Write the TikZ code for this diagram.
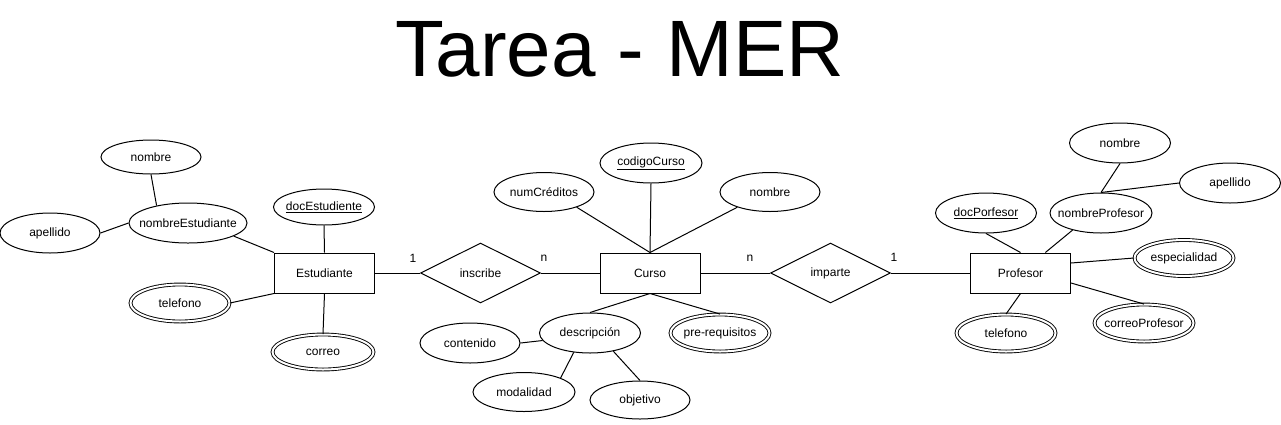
\documentclass[tikz,border=0pt]{standalone}
\usepackage{fontspec}
\setmainfont{Liberation Sans}
\usetikzlibrary{shapes.geometric}
\newcommand\tx[1]{\makebox[0pt]{#1}}
\begin{document}
\begin{tikzpicture}[x=1pt,y=-1pt,line width=1pt,
  lbl/.style={font=\fontsize{12}{14}\selectfont,inner sep=0pt},
  attr/.style 2 args={ellipse,draw,inner sep=0pt,minimum width=#1pt,minimum height=#2pt,font=\fontsize{12}{14}\selectfont},
  mattr/.style 2 args={ellipse,draw,double,double distance=2pt,line width=0.9pt,inner sep=0pt,minimum width=#1pt-3pt,minimum height=#2pt-3pt,font=\fontsize{12}{14}\selectfont},
  entity/.style={rectangle,draw,inner sep=0pt,minimum width=100pt,minimum height=40pt,font=\fontsize{12}{14}\selectfont},
  rel/.style={diamond,draw,aspect=2,inner sep=0pt,minimum width=120pt,minimum height=60pt,font=\fontsize{12}{14}\selectfont}
]
\useasboundingbox (0,0) rectangle (1281,424);
\node (title) at (620,76) [anchor=base,inner sep=0pt,font=\fontsize{80}{96}\selectfont] {Tarea - MER};

% Estudiante
\node[entity] (est) at (324.5,273) {Estudiante};
\node[attr={100}{34}] (enombre) at (151,157) {\tx{nombre}};
\node[attr={100}{40}] (eapellido) at (50,233) {\tx{apellido}};
\node[attr={118}{40}] (ene) at (188,223) {\tx{nombreEstudiante}};
\node[attr={101}{36}] (edoc) at (324,207) {\tx{\underline{docEstudiente}}};
\node[mattr={102}{40}] (etel) at (180,303) {\tx{telefono}};
\node[mattr={104}{38}] (ecorreo) at (323,352) {\tx{correo}};

\draw (enombre.south) -- (ene.151);
\draw (eapellido.east) -- (ene.west);
\draw (ene.-16) -- (est.north west);
\draw (etel.east) -- (est.south west);
\draw (edoc.south) -- (est.north);
\draw (ecorreo.north) -- (est.south);

% Curso
\node[entity] (curso) at (650,273) {Curso};
\node[attr={102}{40}] (ccod) at (651,163) {\tx{\underline{codigoCurso}}};
\node[attr={100}{39}] (cnum) at (544,192) {\tx{numCréditos}};
\node[attr={100}{39}] (cnom) at (770,192) {\tx{nombre}};
\node[attr={101}{40}] (cdesc) at (590,333) {\tx{descripción}};
\node[mattr={102}{40}] (cpre) at (720,333) {\tx{pre-requisitos}};
\node[attr={100}{40}] (ccont) at (470,343) {\tx{contenido}};
\node[attr={102}{39}] (cmod) at (524,392) {\tx{modalidad}};
\node[attr={100}{38}] (cobj) at (640,400) {\tx{objetivo}};

\draw (ccod.south) -- (curso.north);
\draw (cnum.-25) -- (curso.north);
\draw (cnom.-155) -- (curso.north);
\draw (curso.south) -- (cdesc.north);
\draw (curso.south) -- (cpre.north);
\draw (ccont.east) -- (cdesc.189);
\draw (cdesc.-130) -- (cmod.21);
\draw (cdesc.-38) -- (cobj.north);

% Profesor
\node[entity] (prof) at (1020.5,273) {Profesor};
\node[attr={101}{40}] (pdoc) at (986,213) {\tx{\underline{docPorfesor}}};
\node[attr={102}{40}] (pnp) at (1101,213) {\tx{nombreProfesor}};
\node[attr={101}{40}] (pnom) at (1120,143) {\tx{nombre}};
\node[attr={101}{40}] (pape) at (1230,183) {\tx{apellido}};
\node[mattr={102}{39}] (pesp) at (1184,258) {\tx{especialidad}};
\node[mattr={102}{40}] (pcor) at (1144,323) {\tx{correoProfesor}};
\node[mattr={102}{40}] (ptel) at (1006,333) {\tx{telefono}};

\draw (pdoc.south) -- (prof.north);
\draw (pnp.-149) -- (prof);
\draw (pnom.south) -- (pnp.north);
\draw (pape.west) -- (pnp.north);
\draw (pesp.west) -- ([yshift=10pt]prof.east);
\draw (pcor.north) -- ([yshift=-10pt]prof.east);
\draw (ptel.north) -- (prof.south);

% Relationships
\node[rel] (insc) at (480.5,273) {inscribe};
\node[rel] (imp) at (830.5,273) {imparte};
\draw (est.east) -- (insc.west);
\draw (insc.east) -- (curso.west);
\draw (curso.east) -- (imp.west);
\draw (imp.east) -- (prof.west);
\node[lbl] (c1) at (413,258) {1};
\node[lbl] (c2) at (544,258) {n};
\node[lbl] (c3) at (750,258) {n};
\node[lbl] (c4) at (894,257) {1};
\end{tikzpicture}
\end{document}
